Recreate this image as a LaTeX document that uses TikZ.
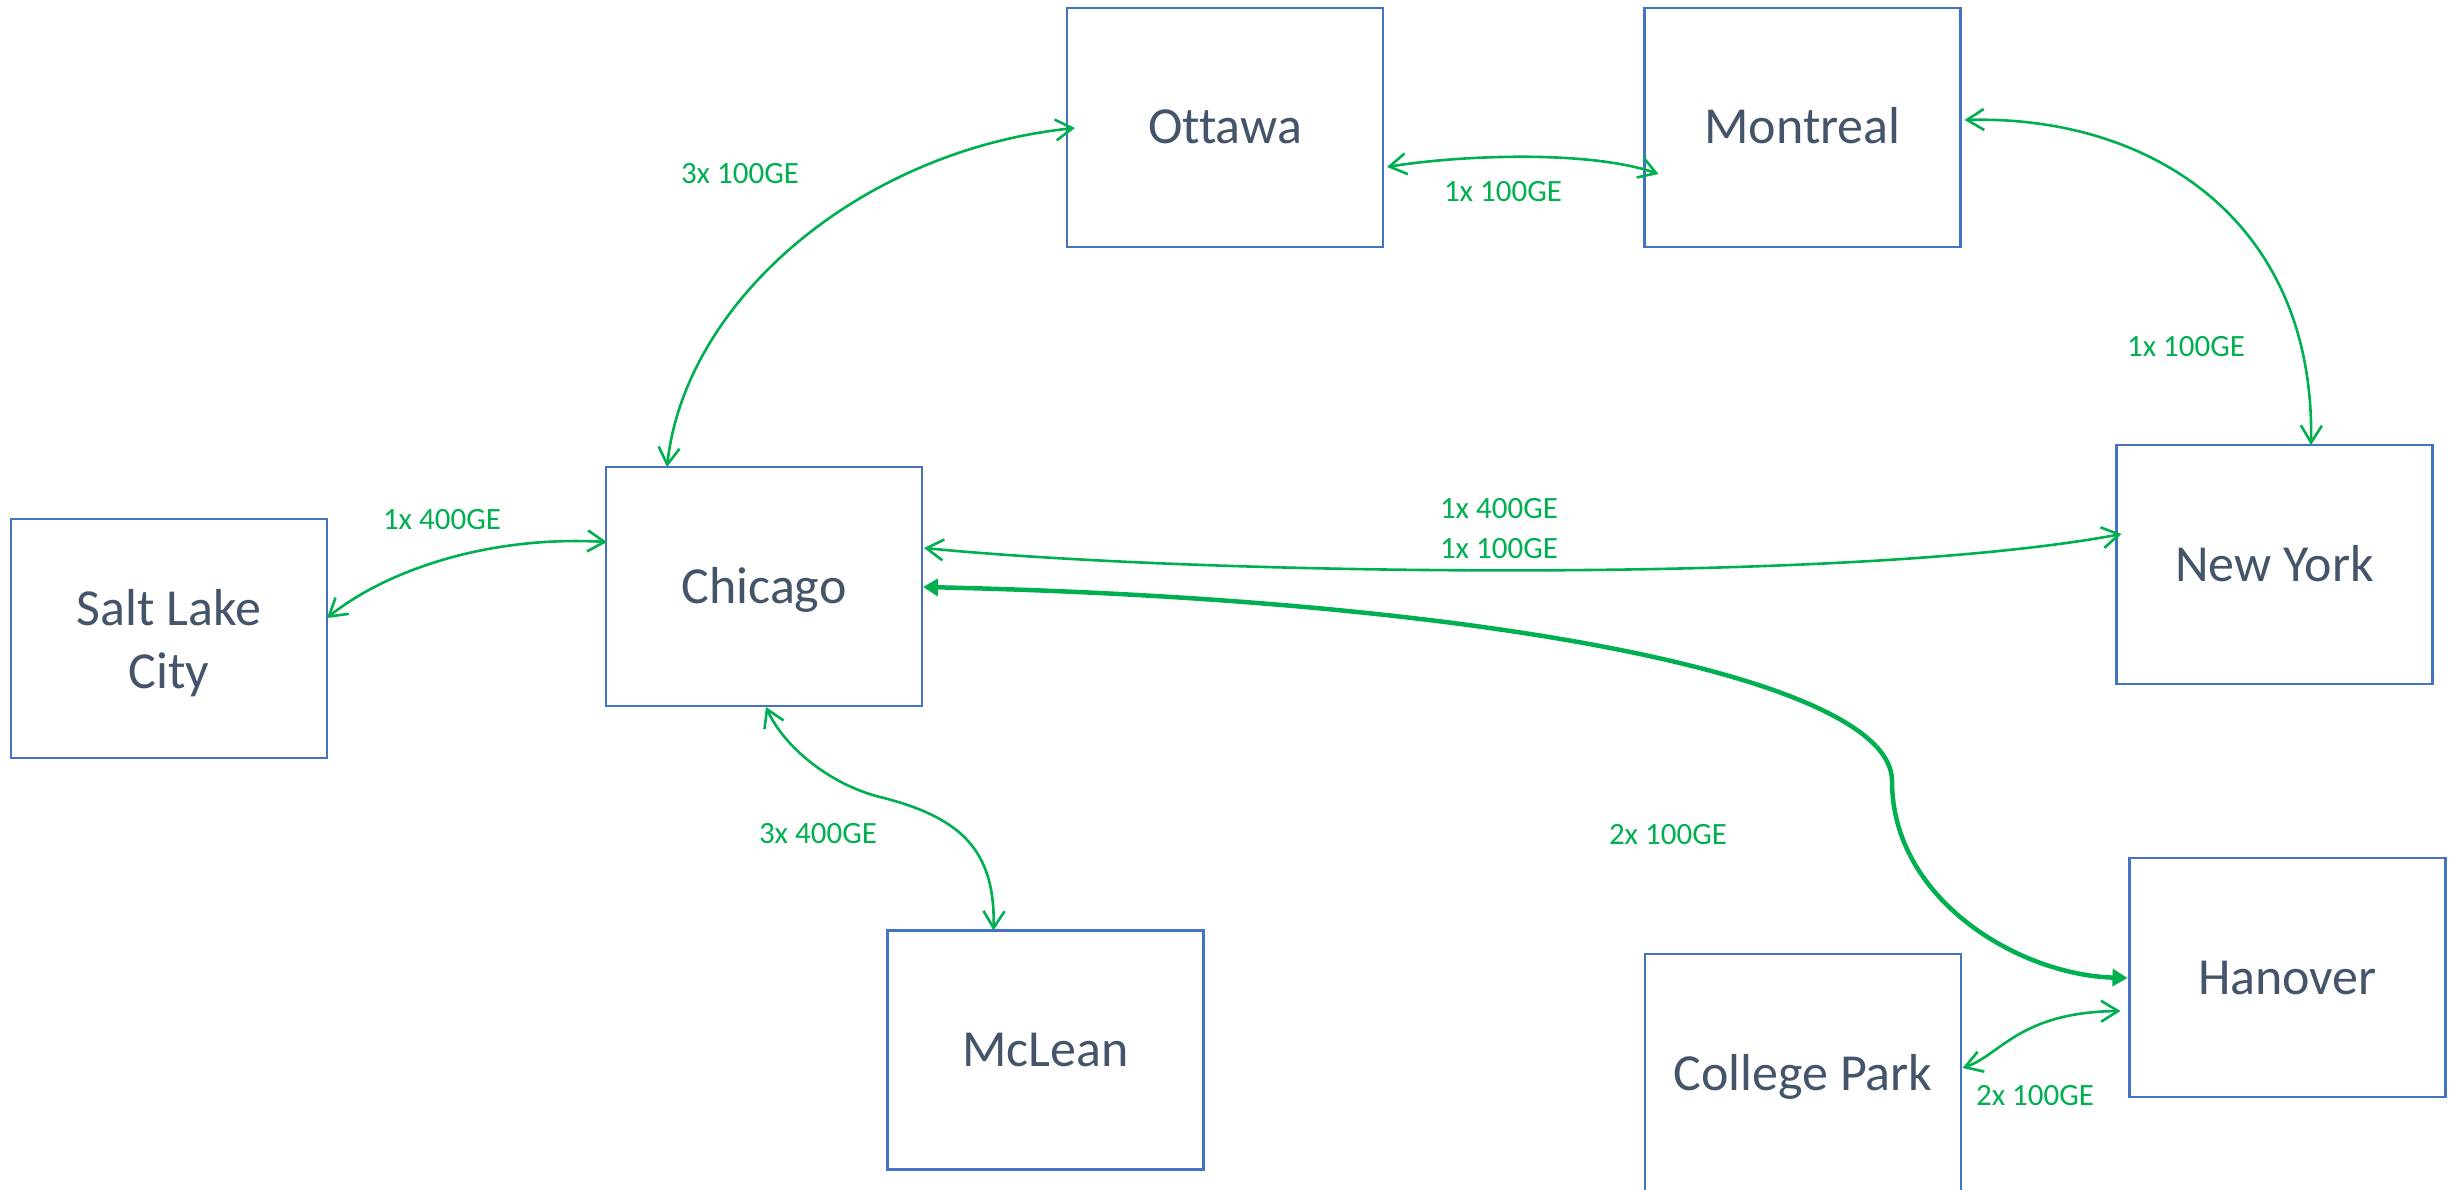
\documentclass[tikz,border=0pt]{standalone}
\usepackage{fontspec}
\setmainfont[Ligatures={NoCommon}]{Carlito}
\usetikzlibrary{arrows.meta,calc}
\definecolor{boxblue}{HTML}{4472C4}
\definecolor{txtgray}{HTML}{44546A}
\definecolor{lnkgreen}{HTML}{00B050}
\begin{document}
\begin{tikzpicture}[x=1pt,y=-1pt,
  boxbase/.style={draw=boxblue, line width=2.5pt, minimum width=316pt, minimum height=239pt,
    inner sep=0pt, outer sep=0pt, text=txtgray, font=\fontsize{52}{63}\selectfont},
  city/.style={boxbase, text height=33pt, text depth=0pt},
  lbl/.style={text=lnkgreen, font=\fontsize{31}{40}\selectfont, inner sep=0pt, text height=20pt, text depth=0pt},
  link/.style={draw=lnkgreen, line width=2.6pt,
    {Straight Barb[length=17pt,width=21pt]}-{Straight Barb[length=17pt,width=21pt]}},
  biglink/.style={draw=lnkgreen, line width=4.5pt,
    {Triangle[length=15pt,width=17pt]}-{Triangle[length=15pt,width=17pt]}}]
\clip (0,0) rectangle (2450,1190);
\fill[white] (0,0) rectangle (2450,1190);

% boxes
\node[city] (ott) at (1225,127.5) {Ottawa};
\node[city] (mon) at (1802.5,127.5) {Montreal};
\node[city] (chi) at (764,586.5) {Chicago};
\node[boxbase, align=center, text depth=0pt] (slc) at (169,638.5) {Salt Lake\\City};
\node[city] (ny) at (2274.5,564.5) {New York};
\node[city] (mcl) at (1045.5,1050) {McLean};
\node[city] (han) at (2287.5,977.5) {Hanover};
\node[city] (cp) at (1803,1073.5) {College Park};

% labels
\node[lbl] (l1) at (740,174) {3x 100GE};
\node[lbl] (l2) at (1503,192) {1x 100GE};
\node[lbl] (l3) at (2186,346) {1x 100GE};
\node[lbl] (l4) at (442,519) {1x 400GE};
\node[lbl] (l5a) at (1499,508) {1x 400GE};
\node[lbl] (l5b) at (1499,548) {1x 100GE};
\node[lbl] (l6) at (818,833) {3x 400GE};
\node[lbl] (l7) at (1668,834) {2x 100GE};
\node[lbl] (l8) at (2035,1095) {2x 100GE};

% connectors
\draw[link] ($(chi.north west)+(61,0)$) .. controls +(18,-166) and +(-215,22) .. ($(ott.west)+(8,0.5)$);
\draw[link] ($(ott.east)+(4,39.5)$) .. controls +(73,-12) and +(-69,-24) .. ($(mon.west)+(14,46.5)$);
\draw[link] ($(mon.east)+(4,-7.5)$) .. controls +(186,-5) and +(4,-225) .. ($(ny.north)+(36.5,0)$);
\draw[link] ($(slc.east)+(0,-20.5)$) .. controls +(53,-43) and +(-127,-7) .. ($(chi.west)+(1,-44.5)$);
\draw[link] ($(chi.south)+(2,1)$) .. controls +(18,40) and +(-50,-12.5) .. (880,797)
   .. controls +(80,20) and +(2,-81) .. ($(mcl.north)+(-52,0)$);
\draw[link] ($(chi.east)+(2,-38.5)$) .. controls +(276,27) and +(-272,51) .. ($(ny.west)+(5,-30.5)$);
\draw[biglink] ($(chi.east)+(1,0.5)$) .. controls +(577,13) and +(0,-101) .. (1892,781)
   .. controls +(0,119) and +(-108,-3) .. ($(han.west)+(-2,0.5)$);
\draw[link] ($(cp.east)+(1.5,-5.5)$) .. controls +(38,-13) and +(-101,1) .. ($(han.west)+(-9,33.5)$);
\end{tikzpicture}
\end{document}
